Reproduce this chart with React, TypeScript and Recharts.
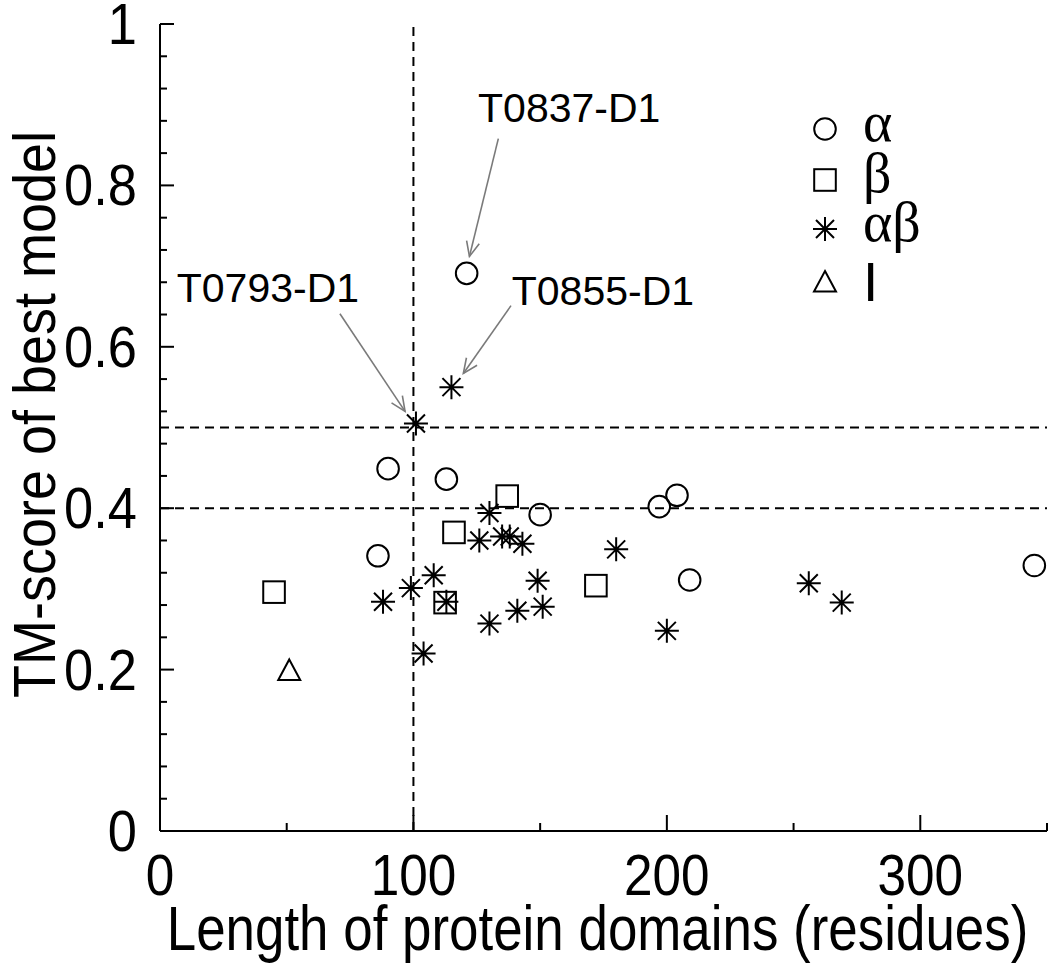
import React from "react";
import { ScatterChart, Scatter, XAxis, YAxis, ReferenceLine, ReferenceDot, Legend } from "recharts";

const SANS = "'Liberation Sans', Arial, sans-serif";
const SERIF = "'Liberation Serif', 'Times New Roman', serif";

// data: length of domain (residues) vs TM-score of best model
const alphaPoints = [
  { x: 121, y: 0.691 },
  { x: 90, y: 0.449 },
  { x: 113, y: 0.436 },
  { x: 150, y: 0.392 },
  { x: 86, y: 0.341 },
  { x: 197, y: 0.402 },
  { x: 204, y: 0.416 },
  { x: 209, y: 0.311 },
  { x: 345, y: 0.329 },
];
const betaPoints = [
  { x: 137, y: 0.415 },
  { x: 116, y: 0.37 },
  { x: 45, y: 0.296 },
  { x: 112.5, y: 0.283 },
  { x: 172, y: 0.304 },
];
const alphaBetaPoints = [
  { x: 101, y: 0.505 },
  { x: 115, y: 0.55 },
  { x: 130, y: 0.394 },
  { x: 126, y: 0.36 },
  { x: 135, y: 0.365 },
  { x: 138, y: 0.365 },
  { x: 143, y: 0.356 },
  { x: 180, y: 0.349 },
  { x: 108, y: 0.317 },
  { x: 99, y: 0.301 },
  { x: 88, y: 0.284 },
  { x: 113, y: 0.284 },
  { x: 149, y: 0.31 },
  { x: 151, y: 0.278 },
  { x: 141, y: 0.273 },
  { x: 130, y: 0.257 },
  { x: 104, y: 0.22 },
  { x: 200, y: 0.248 },
  { x: 256, y: 0.307 },
  { x: 269, y: 0.283 },
];
const irregularPoints = [{ x: 51, y: 0.199 }];

// callouts: label anchor, arrow start, arrow tip (data units)
const callouts = [
  { name: "T0837-D1", tx: 125.5, ty: 0.879, x1: 133.5, y1: 0.858, x2: 122.1, y2: 0.712 },
  { name: "T0793-D1", tx: 6.6, ty: 0.655, x1: 71, y1: 0.641, x2: 96.7, y2: 0.52 },
  { name: "T0855-D1", tx: 138.8, ty: 0.652, x1: 138.5, y1: 0.651, x2: 119.7, y2: 0.567 },
];

const thresholdsY = [0.5, 0.4];
const thresholdX = 100;

const xTicks = [0, 50, 100, 150, 200, 250, 300, 350];
const xLabelTicks = [0, 100, 200, 300];
const yTicks = Array.from({ length: 26 }, (_, i) => i / 25);
const yLabelTicks = [0, 0.2, 0.4, 0.6, 0.8, 1];

const legendItems = [
  { kind: "circle", label: "α", serif: true },
  { kind: "square", label: "β", serif: true },
  { kind: "star", label: "αβ", serif: true },
  { kind: "triangle", label: "I", serif: false },
];

const isLabelY = (v: number) => yLabelTicks.some((t) => Math.abs(t - v) < 1e-6);

const NarrowText = ({ x, y, anchor, size, rotate, sx = 0.82, children }: any) => (
  <text
    transform={`translate(${x},${y})${rotate ? " rotate(-90)" : ""} scale(${sx},1)`}
    textAnchor={anchor}
    fontFamily={SANS}
    fontSize={size}
    fill="#000"
  >
    {children}
  </text>
);

const Marker = ({ cx, cy, kind }: any) => {
  const s = { fill: "none", stroke: "#000", strokeWidth: 2 };
  if (kind === "circle") return <circle cx={cx} cy={cy} r={10.8} {...s} />;
  if (kind === "square") return <rect x={cx - 10.8} y={cy - 10.8} width={21.6} height={21.6} {...s} />;
  if (kind === "triangle")
    return <path d={`M${cx},${cy - 11}L${cx + 11},${cy + 9.5}L${cx - 11},${cy + 9.5}Z`} {...s} />;
  const h = 12;
  const d = 9;
  return (
    <path
      d={`M${cx - h},${cy}H${cx + h}M${cx},${cy - h}V${cy + h}M${cx - d},${cy - d}L${cx + d},${cy + d}M${cx - d},${cy + d}L${cx + d},${cy - d}`}
      {...s}
    />
  );
};

const shapeOf = (kind: string) => (p: any) => <Marker cx={p.cx} cy={p.cy} kind={kind} />;

const BottomTick = ({ x, y, payload }: any) => {
  const v = payload.value;
  const major = xLabelTicks.includes(v);
  return (
    <g>
      <line x1={x} y1={y} x2={x} y2={y - (major ? 16 : 8)} stroke="#000" strokeWidth={2} />
      {major && (
        <NarrowText x={x} y={y + 64} anchor="middle" size={57} sx={0.9}>
          {String(v)}
        </NarrowText>
      )}
    </g>
  );
};

const TopTick = ({ x, y, payload }: any) => {
  const major = xLabelTicks.includes(payload.value);
  return <line x1={x} y1={y} x2={x} y2={y + (major ? 16 : 8)} stroke="#000" strokeWidth={2} />;
};

const LeftTick = ({ x, y, payload }: any) => {
  const v = payload.value;
  const major = isLabelY(v);
  return (
    <g>
      <line x1={x} y1={y} x2={x + (major ? 14 : 7)} y2={y} stroke="#000" strokeWidth={2} />
      {major && (
        <NarrowText x={x - 23} y={y + 20} anchor="end" size={57} sx={0.92}>
          {String(Math.round(v * 10) / 10)}
        </NarrowText>
      )}
    </g>
  );
};

const RightTick = ({ x, y, payload }: any) => {
  const major = isLabelY(payload.value);
  return <line x1={x} y1={y} x2={x - (major ? 14 : 7)} y2={y} stroke="#000" strokeWidth={2} />;
};

const Arrow = (p: any) => {
  const { x1, y1, x2, y2 } = p;
  const ang = Math.atan2(y1 - y2, x1 - x2);
  const len = 16;
  const spread = (24 * Math.PI) / 180;
  const ax = x2 + len * Math.cos(ang - spread);
  const ay = y2 + len * Math.sin(ang - spread);
  const bx = x2 + len * Math.cos(ang + spread);
  const by = y2 + len * Math.sin(ang + spread);
  return (
    <g stroke="#7a7a7a" strokeWidth={1.6} fill="none">
      <line x1={x1} y1={y1} x2={x2} y2={y2} />
      <polyline points={`${ax},${ay} ${x2},${y2} ${bx},${by}`} />
    </g>
  );
};

const legendRowY = [29, 80, 129, 182];

const LegendBox = () => (
  <svg width={180} height={220} style={{ overflow: "visible" }}>
    {legendItems.map((it, i) => (
      <g key={it.label}>
        <Marker cx={35} cy={legendRowY[i]} kind={it.kind} />
        {it.serif ? (
          <text x={73} y={legendRowY[i] + 12} fontFamily={SERIF} fontSize={56} fill="#000">
            {it.label}
          </text>
        ) : (
          <text x={73} y={legendRowY[i] + 19} fontFamily={SANS} fontSize={55} fill="#000">
            {it.label}
          </text>
        )}
      </g>
    ))}
  </svg>
);

export default function App() {
  return (
    <div style={{ position: "absolute", left: 0, top: 0 }}>
      <ScatterChart width={1050} height={977} margin={{ top: 24, right: 3, bottom: 0, left: 0 }}>
        <XAxis
          type="number"
          dataKey="x"
          domain={[0, 350]}
          ticks={xTicks}
          interval={0}
          height={146}
          tickSize={0}
          tickMargin={0}
          tickLine={false}
          axisLine={{ stroke: "#000", strokeWidth: 2 }}
          tick={<BottomTick />}
          label={{
            content: (p: any) => {
              const vb = p.viewBox || { x: 160, y: 831, width: 887 };
              return (
                <NarrowText x={vb.x + vb.width / 2 - 6} y={vb.y + 119} anchor="middle" size={63} sx={0.84}>
                  Length of protein domains (residues)
                </NarrowText>
              );
            },
          }}
        />
        <XAxis
          xAxisId="top"
          orientation="top"
          type="number"
          domain={[0, 350]}
          ticks={xTicks}
          interval={0}
          height={0}
          tickSize={0}
          tickMargin={0}
          tickLine={false}
          axisLine={{ stroke: "#000", strokeWidth: 2 }}
          tick={<TopTick />}
        />
        <YAxis
          type="number"
          dataKey="y"
          domain={[0, 1]}
          ticks={yTicks}
          interval={0}
          width={160}
          tickSize={0}
          tickMargin={0}
          tickLine={false}
          axisLine={{ stroke: "#000", strokeWidth: 2 }}
          tick={<LeftTick />}
          label={{
            content: (p: any) => {
              const vb = p.viewBox || { x: 0, y: 24, height: 807 };
              return (
                <NarrowText x={vb.x + 55} y={vb.y + vb.height / 2 - 13} anchor="middle" size={60} sx={0.9} rotate>
                  TM-score of best model
                </NarrowText>
              );
            },
          }}
        />
        <YAxis
          yAxisId="right"
          orientation="right"
          type="number"
          domain={[0, 1]}
          ticks={yTicks}
          interval={0}
          width={0}
          tickSize={0}
          tickMargin={0}
          tickLine={false}
          axisLine={{ stroke: "#000", strokeWidth: 2 }}
          tick={<RightTick />}
        />
        <ReferenceLine x={thresholdX} stroke="#000" strokeWidth={2} strokeDasharray="9 6" />
        {thresholdsY.map((v) => (
          <ReferenceLine key={v} y={v} stroke="#000" strokeWidth={2} strokeDasharray="9 6" />
        ))}
        {callouts.map((c) => (
          <ReferenceLine
            key={c.name + "-arrow"}
            segment={[
              { x: c.x1, y: c.y1 },
              { x: c.x2, y: c.y2 },
            ]}
            shape={Arrow}
          />
        ))}
        {callouts.map((c) => (
          <ReferenceDot
            key={c.name}
            x={c.tx}
            y={c.ty}
            r={0}
            shape={(p: any) => (
              <NarrowText x={p.cx} y={p.cy} anchor="start" size={41} sx={1}>
                {c.name}
              </NarrowText>
            )}
          />
        ))}
        <Scatter name="α" data={alphaPoints} shape={shapeOf("circle")} isAnimationActive={false} />
        <Scatter name="β" data={betaPoints} shape={shapeOf("square")} isAnimationActive={false} />
        <Scatter name="αβ" data={alphaBetaPoints} shape={shapeOf("star")} isAnimationActive={false} />
        <Scatter name="I" data={irregularPoints} shape={shapeOf("triangle")} isAnimationActive={false} />
        <Legend
          layout="vertical"
          align="center"
          verticalAlign="middle"
          wrapperStyle={{ left: 790, top: 100, width: 180, height: 220 }}
          content={() => <LegendBox />}
        />
      </ScatterChart>
    </div>
  );
}
